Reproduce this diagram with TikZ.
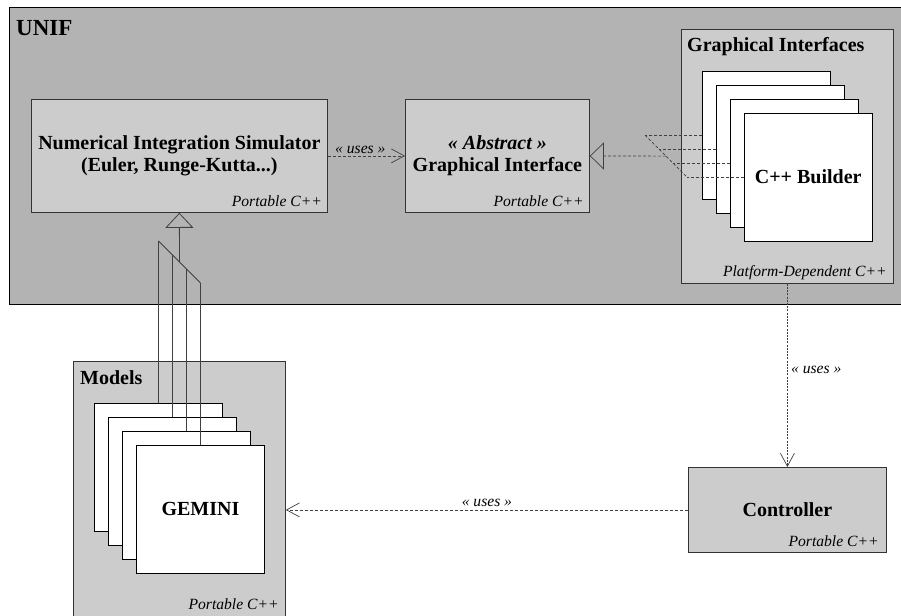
\documentclass[tikz,border=0pt]{standalone}
\usepackage{fontspec}
\setmainfont{Liberation Serif}
\usetikzlibrary{positioning,calc,arrows.meta}

\definecolor{pkggray}{HTML}{B3B3B3}
\definecolor{boxgray}{HTML}{CCCCCC}
\definecolor{linegray}{HTML}{404040}

\begin{document}
\begin{tikzpicture}[x=1pt,y=-1pt,
    pkg/.style={draw=black, line width=0.8pt, fill=pkggray, anchor=north west, inner sep=0pt},
    subpkg/.style={draw=black!80, line width=0.8pt, fill=boxgray, anchor=north west, inner sep=0pt},
    box/.style={draw=black!80, line width=0.8pt, fill=boxgray, anchor=north west, align=center,
        font=\fontsize{20}{22}\selectfont\bfseries},
    card/.style={draw=black, line width=0.8pt, fill=white, anchor=north west,
        minimum width=127.5pt, minimum height=127.5pt, inner sep=0pt},
    boldtext/.style={inner sep=0pt, font=\fontsize{20}{22}\selectfont\bfseries},
    lang/.style={anchor=base east, inner sep=0pt, font=\fontsize{15.6}{18}\selectfont\itshape},
    stereo/.style={font=\fontsize{15.6}{18}\selectfont\itshape},
    uses/.style={draw=linegray, line width=0.7pt, dash pattern=on 3pt off 2pt,
        -{Straight Barb[length=13pt,width=14pt]}},
    realizes/.style={draw=linegray, line width=0.7pt, dash pattern=on 3pt off 2pt,
        -{Triangle[open,length=14pt,width=27pt]}},
    impl/.style={draw=linegray, line width=0.7pt, dash pattern=on 3pt off 2pt},
    inherits/.style={draw=linegray, line width=0.8pt, -{Triangle[open,length=15pt,width=28pt]}}
]
    \clip (0,0) rectangle (901,615);
    \fill[white] (0,0) rectangle (901,615);

    % UNIF package
    \node[pkg, minimum width=900pt, minimum height=297pt] (unif) at (9,7) {};
    \node[boldtext, anchor=base west, font=\fontsize{23}{26}\selectfont\bfseries] (uniftitle) at (16,36) {UNIF};

    % Simulator and abstract interface
    \node[box, minimum width=296.5pt, minimum height=113pt] (sim) at (30.7,99)
        {Numerical Integration Simulator\\(Euler, Runge-Kutta...)};
    \node[lang, xshift=-6pt, yshift=6pt] (simlang) at (sim.south east) {Portable C++};
    \node[box, minimum width=184pt, minimum height=113pt] (abs) at (405,99)
        {\textit{« Abstract »}\\Graphical Interface};
    \node[lang, xshift=-6pt, yshift=6pt] (abslang) at (abs.south east) {Portable C++};
    \draw[uses] (sim.east) -- (abs.west) node[stereo, above, pos=0.42, inner sep=2pt] (uses1) {« uses »};

    % Graphical interfaces
    \node[subpkg, minimum width=212pt, minimum height=254pt] (gis) at (681,29) {};
    \node[boldtext, anchor=base west] (gistitle) at (687,52) {Graphical Interfaces};
    \node[lang, xshift=-7pt, yshift=7pt] (gislang) at (gis.south east) {Platform-Dependent C++};
    \foreach \i in {1,...,4}
        \node[card] (gui\i) at ({702+14*(\i-1)},{71+14*(\i-1)}) {};
    \node[boldtext] (guiname) at (gui4) {C++ Builder};
    \foreach \i in {1,...,4}
        \draw[impl] (gui\i.west) -- ++(-57,0) coordinate (g\i);
    \draw[impl] (g1) -- (g4);
    \draw[realizes] ($(g1)!0.5!(g4)$) -- (abs.east);

    % Models
    \node[subpkg, minimum width=212pt, minimum height=254.5pt] (models) at (73,361) {};
    \node[boldtext, anchor=base west] (modtitle) at (80,384) {Models};
    \node[lang, xshift=-7pt, yshift=7pt] (modlang) at (models.south east) {Portable C++};
    \foreach \i in {1,...,4}
        \node[card] (model\i) at ({94.3+14*(\i-1)},{403+14*(\i-1)}) {};
    \node[boldtext] (modname) at (model4) {GEMINI};
    \foreach \i in {1,...,4}
        \draw[draw=linegray, line width=0.8pt] (model\i.north) -- ++(0,-162) coordinate (m\i);
    \draw[draw=linegray, line width=0.8pt] (m1) -- (m4);
    \draw[inherits] ($(m1)!0.5!(m4)$) -- (sim.south);

    % Controller
    \node[box, minimum width=198pt, minimum height=85pt] (ctl) at (688,467) {Controller};
    \node[lang, xshift=-8pt, yshift=6pt] (ctllang) at (ctl.south east) {Portable C++};
    \draw[uses, dash pattern=on 2pt off 1.2pt] (gis.south) -- (ctl.north)
        node[stereo, right, pos=0.47] (uses2) {« uses »};
    \draw[uses] (ctl.west) -- (ctl.west -| models.east)
        node[stereo, above, midway] (uses3) {« uses »};
\end{tikzpicture}
\end{document}
